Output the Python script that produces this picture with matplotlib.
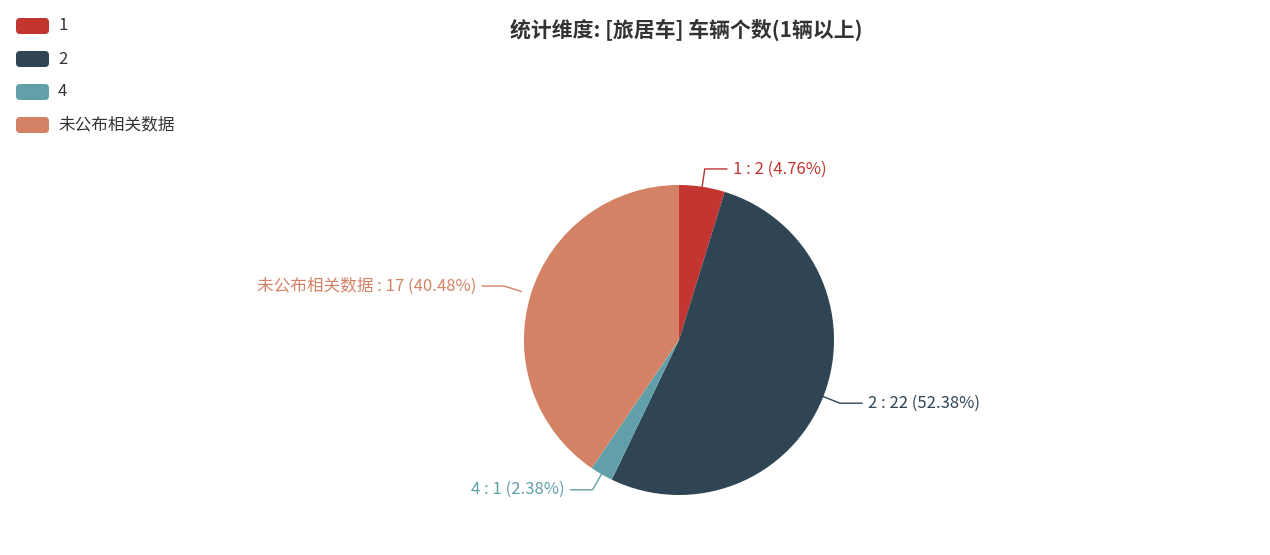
import numpy as np
import matplotlib
matplotlib.use("Agg")
import matplotlib.pyplot as plt
from matplotlib.patches import FancyBboxPatch

plt.rcParams['font.family'] = ['Noto Sans CJK SC', 'DejaVu Sans']

categories = ["1", "2", "4", "未公布相关数据"]
values = [2, 22, 1, 17]
colors = ["#c23531", "#2f4554", "#61a0a8", "#d48265"]
title = "统计维度: [旅居车] 车辆个数(1辆以上)"

W, H = 1270, 555
fig = plt.figure(figsize=(W / 100, H / 100), dpi=100)
ax = fig.add_axes([0, 0, 1, 1])
ax.set_xlim(0, W)
ax.set_ylim(0, H)
ax.set_aspect("equal")
ax.axis("off")

cx, cy, R = 679, H - 340, 155
explode = [0, 0, 0, 0.065]
wedges, _ = ax.pie(values, colors=colors, startangle=90, counterclock=False,
                   center=(cx, cy), radius=R, explode=explode,
                   wedgeprops=dict(linewidth=0))
ax.set_xlim(0, W)
ax.set_ylim(0, H)

total = sum(values)
for w, cat, v, c, ex in zip(wedges, categories, values, colors, explode):
    mid = np.deg2rad((w.theta1 + w.theta2) / 2)
    ox, oy = cx + ex * R * np.cos(mid), cy + ex * R * np.sin(mid)
    p0 = (ox + R * np.cos(mid), oy + R * np.sin(mid))
    p1 = (ox + (R + 18) * np.cos(mid), oy + (R + 18) * np.sin(mid))
    side = 1 if np.cos(mid) >= 0 else -1
    p2 = (p1[0] + side * 22, p1[1])
    ax.plot([p0[0], p1[0], p2[0]], [p0[1], p1[1], p2[1]], color=c, lw=1)
    ax.text(p2[0] + side * 6, p2[1], f"{cat} : {v} ({v / total * 100:.2f}%)",
            color=c, fontsize=12, va="center",
            ha="left" if side > 0 else "right")

# legend
for i, (cat, c) in enumerate(zip(categories, colors)):
    y = H - 26 - i * 33
    ax.add_patch(FancyBboxPatch((16, y - 8), 33, 16, boxstyle="round,pad=0,rounding_size=4",
                                fc=c, ec="none"))
    ax.text(58, y, cat, fontsize=12, va="center", color="#333333")

ax.text(686, H - 30, title, fontsize=15, fontweight="bold", ha="center",
        va="center", color="#333333")

fig.savefig("out.png", dpi=100)
